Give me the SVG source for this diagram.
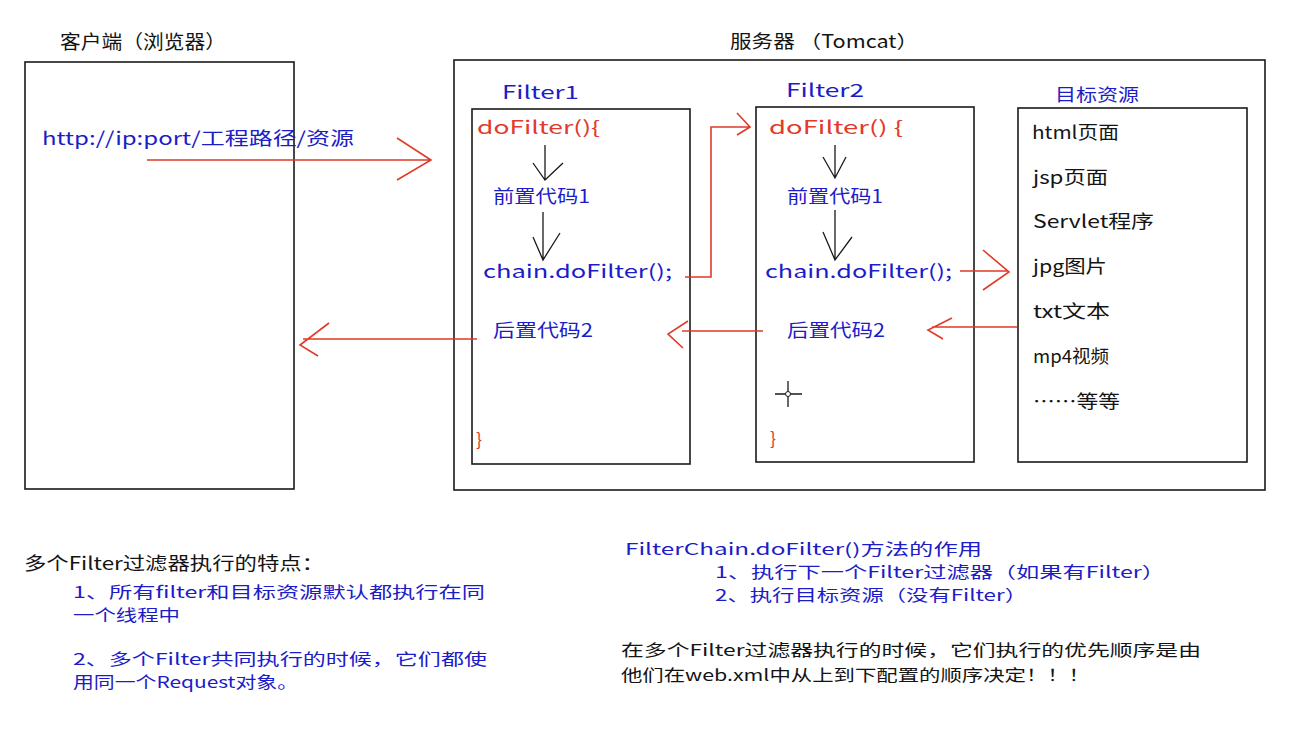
<svg xmlns="http://www.w3.org/2000/svg" width="1302" height="745" viewBox="0 0 1302 745">
<style>
text{font-family:"Noto Sans CJK SC","Liberation Sans",sans-serif;font-size:18px}
.b{fill:#1c1cc8}
.r{fill:#e23a2a}
.k{fill:#141414}
.t{font-size:16px}
.box{fill:none;stroke:#1a1a1a;stroke-width:1.6}
.rl{fill:none;stroke:#e03a28;stroke-width:1.6}
.kl{fill:none;stroke:#1a1a1a;stroke-width:1.3}
</style>
<rect width="1302" height="745" fill="#fff"/>
<g id="client">
<rect class="box" x="25" y="62" width="269" height="427"/>
<text class="k" x="60" y="49" textLength="166" lengthAdjust="spacingAndGlyphs" style="font-size:19px">客户端（浏览器）</text>
<text class="b" x="42" y="145" textLength="312" lengthAdjust="spacingAndGlyphs">http://ip:port/工程路径/资源</text>
</g>
<g id="server">
<rect class="box" x="454" y="60" width="811" height="430"/>
<text class="k" x="730" y="48" textLength="188" lengthAdjust="spacingAndGlyphs">服务器 （Tomcat）</text>
</g>
<g id="filter1">
<text class="b" x="502" y="99" textLength="77" lengthAdjust="spacingAndGlyphs">Filter1</text>
<rect class="box" x="472" y="109" width="218" height="355"/>
<text class="r" x="477" y="134" textLength="123" lengthAdjust="spacingAndGlyphs">doFilter(){</text>
<text class="b" x="493" y="203" textLength="97" lengthAdjust="spacingAndGlyphs">前置代码1</text>
<text class="b" x="483" y="278" textLength="189" lengthAdjust="spacingAndGlyphs">chain.doFilter();</text>
<text class="b" x="493" y="337" textLength="100" lengthAdjust="spacingAndGlyphs">后置代码2</text>
<text class="r" x="476" y="446">}</text>
</g>
<g id="filter2">
<text class="b" x="786" y="97" textLength="78" lengthAdjust="spacingAndGlyphs">Filter2</text>
<rect class="box" x="756" y="107" width="218" height="355"/>
<text class="r" x="769" y="134" textLength="134" lengthAdjust="spacingAndGlyphs">doFilter() {</text>
<text class="b" x="787" y="203" textLength="96" lengthAdjust="spacingAndGlyphs">前置代码1</text>
<text class="b" x="765" y="278" textLength="187" lengthAdjust="spacingAndGlyphs">chain.doFilter();</text>
<text class="b" x="787" y="337" textLength="98" lengthAdjust="spacingAndGlyphs">后置代码2</text>
<text class="r" x="770" y="445">}</text>
<path class="kl" d="M775 394H802M788 381V407"/>
<circle cx="788" cy="394" r="2.5" fill="#fff" stroke="#1a1a1a" stroke-width="1"/>
</g>
<g id="target">
<text class="b" x="1055" y="101" textLength="84" lengthAdjust="spacingAndGlyphs" style="font-size:17px">目标资源</text>
<rect class="box" x="1018" y="108" width="229" height="354"/>
<text class="k" x="1032" y="139" textLength="87" lengthAdjust="spacingAndGlyphs">html页面</text>
<text class="k" x="1033" y="184" textLength="75" lengthAdjust="spacingAndGlyphs">jsp页面</text>
<text class="k" x="1033" y="228" textLength="121" lengthAdjust="spacingAndGlyphs">Servlet程序</text>
<text class="k" x="1033" y="273" textLength="74" lengthAdjust="spacingAndGlyphs">jpg图片</text>
<text class="k" x="1033" y="318" textLength="77" lengthAdjust="spacingAndGlyphs">txt文本</text>
<text class="k" x="1033" y="363" textLength="76" lengthAdjust="spacingAndGlyphs">mp4视频</text>
<text class="k" x="1033" y="408" textLength="87" lengthAdjust="spacingAndGlyphs">……等等</text>
</g>
<g id="connectors">
<path class="rl" d="M147 160H430M397 138L431 160L397 180"/>
<path class="kl" d="M545 145V180M533 163L545 180L563 163"/>
<path class="kl" d="M543 212V260M533 237L543 260L560 233"/>
<path class="rl" d="M685 277H711V127H749M737 113L750 127L737 135"/>
<path class="kl" d="M835 145V178M823 157L835 178L846 157"/>
<path class="kl" d="M835 210V260M823 232L835 260L852 237"/>
<path class="rl" d="M960 271H1008M983 250L1009 272L983 290"/>
<path class="rl" d="M1017 327H932M952 318L928 330L943 339"/>
<path class="rl" d="M763 331H682M688 321L668 334L683 348"/>
<path class="rl" d="M477 339H303M329 323L300 345L318 356"/>
</g>
<g id="notes-left">
<text class="k" x="24" y="570" textLength="300" lengthAdjust="spacingAndGlyphs">多个Filter过滤器执行的特点：</text>
<text class="b t" x="73" y="598" textLength="412" lengthAdjust="spacingAndGlyphs">1、所有filter和目标资源默认都执行在同</text>
<text class="b t" x="73" y="621" textLength="107" lengthAdjust="spacingAndGlyphs">一个线程中</text>
<text class="b t" x="73" y="665" textLength="414" lengthAdjust="spacingAndGlyphs">2、多个Filter共同执行的时候，它们都使</text>
<text class="b t" x="73" y="688" textLength="225" lengthAdjust="spacingAndGlyphs">用同一个Request对象。</text>
</g>
<g id="notes-right">
<text class="b t" x="625" y="555" textLength="357" lengthAdjust="spacingAndGlyphs">FilterChain.doFilter()方法的作用</text>
<text class="b t" x="715" y="578" textLength="450" lengthAdjust="spacingAndGlyphs">1、执行下一个Filter过滤器（如果有Filter）</text>
<text class="b t" x="715" y="601" textLength="312" lengthAdjust="spacingAndGlyphs">2、执行目标资源（没有Filter）</text>
<text class="k t" x="621" y="656" textLength="580" lengthAdjust="spacingAndGlyphs">在多个Filter过滤器执行的时候，它们执行的优先顺序是由</text>
<text class="k t" x="621" y="681" textLength="469" lengthAdjust="spacingAndGlyphs">他们在web.xml中从上到下配置的顺序决定！！！</text>
</g>
</svg>
